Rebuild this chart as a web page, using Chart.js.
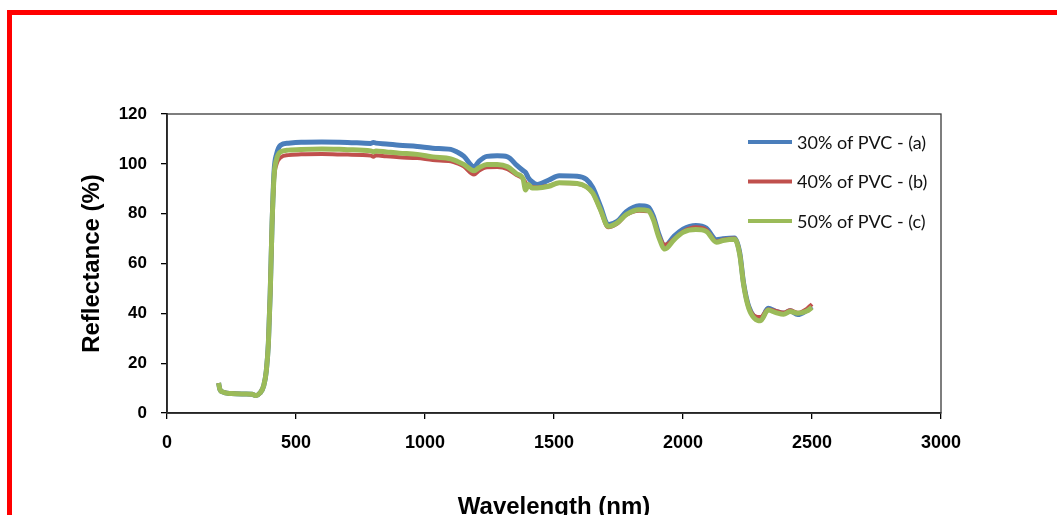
<!DOCTYPE html>
<html><head><meta charset="utf-8">
<script src="https://cdn.jsdelivr.net/npm/chart.js@4"></script>
<style>
html,body{margin:0;padding:0;background:#fff;overflow:hidden;width:1057px;height:515px;}
#frame{position:absolute;left:7px;top:10px;width:1120px;height:580px;border:5px solid #ff0000;box-sizing:border-box;}
#c{position:absolute;left:0;top:0;}
</style></head><body>
<div id="frame"></div>
<canvas id="c" width="1057" height="540"></canvas>
<script>
const wavelengths = [200,205,215,250,300,330,345,360,375,385,393,400,407,415,425,440,470,520,600,700,790,800,810,850,900,970,1030,1100,1125,1150,1190,1210,1240,1280,1320,1355,1380,1390,1400,1415,1435,1480,1520,1590,1625,1650,1680,1710,1745,1780,1830,1865,1885,1905,1930,1965,2000,2050,2090,2130,2155,2200,2220,2235,2255,2300,2330,2360,2390,2415,2445,2480,2500];
const pvc30 = [12,9.5,8.5,7.8,7.6,7.5,7.0,8.0,11,17,28,48,75,97,104,107.5,108.3,108.7,108.8,108.6,108.2,108.6,108.3,108.0,107.5,107.0,106.3,105.8,104.7,103.1,98.8,101.1,103.0,103.2,102.8,99.5,97.3,96.5,94.5,92.8,91.7,93.5,95.2,95.0,93.8,90.5,83,75.6,76.9,80.8,83.2,82.7,79,72.2,67.1,70.9,73.8,75.3,74.2,69.5,69.9,70.2,64.2,52,42.7,37.3,42,40.8,40,41,39.5,41.2,42.7];
const pvc40 = [12,9.5,8.5,7.8,7.6,7.5,7.0,8.0,11,17,28,48,75,94,100,102.5,103.5,103.8,103.9,103.7,103.3,102.8,103.4,103.0,102.6,102.3,101.5,101.0,100.2,99.0,95.7,97.3,98.6,98.7,97.9,95.5,94.0,92.5,90.8,90.8,90.5,91.2,92.3,92.0,90.8,88.3,81.5,74.5,76.0,79.5,81.2,81.0,78.0,71.5,67.5,69.8,72.8,74.5,73.5,68.8,69.5,70.0,64.0,51.8,42.5,38.5,41.5,41.0,40.3,41.2,40.2,41.8,43.7];
const pvc50 = [12,9.5,8.5,7.8,7.6,7.5,7.0,8.0,11,17,28,48,75,95,102,104.8,105.5,105.8,106.0,105.7,105.2,104.8,105.2,104.8,104.3,103.8,102.8,102.0,101.0,99.8,97.2,98.5,99.7,99.7,98.8,96.0,94.0,89.5,91.7,90.3,90.3,91.0,92.4,92.1,90.8,88.3,81.6,74.9,76.3,79.6,81.6,81.2,77.6,70.9,65.8,69.5,72.5,73.6,72.9,68.5,69.2,69.7,63.5,51.4,42.0,37.0,41.3,40.3,39.6,40.7,40.0,40.9,42.4];
const seriesLabels = ['30% of PVC - (a)','40% of PVC - (b)','50% of PVC - (c)'];
const xTicks = [0,500,1000,1500,2000,2500,3000];
const yTicks = [0,20,40,60,80,100,120];
const xTitle = 'Wavelength (nm)';
const yTitle = 'Reflectance (%)';

const toPts = arr => wavelengths.map((w,i)=>({x:w,y:arr[i]}));
const colors = ['#4a7ebb','#c0504d','#9bbb59'];
const widths = [5,4,5];
const orders = [2,1,0];

const framePlugin = {
  id:'frameBox',
  beforeDatasetsDraw(chart){
    const a = chart.chartArea, ctx = chart.ctx;
    ctx.save(); ctx.strokeStyle='#3a3a3a'; ctx.lineWidth=1.3;
    ctx.strokeRect(a.left, a.top, a.right-a.left, a.bottom-a.top);
    ctx.restore();
  }
};
const legendPlugin = {
  id:'inLegend',
  afterDatasetsDraw(chart){
    const ctx = chart.ctx, a = chart.chartArea;
    chart.data.datasets.forEach((ds,i)=>{
      const y = a.top + 28 + i*39.5;
      ctx.save();
      ctx.strokeStyle = ds.borderColor; ctx.lineWidth = 4; ctx.lineCap='butt';
      ctx.beginPath(); ctx.moveTo(a.left+581, y); ctx.lineTo(a.left+625, y); ctx.stroke();
      ctx.fillStyle = '#111'; ctx.font = '18px Lato'; ctx.textBaseline = 'middle';
      ctx.fillText(ds.label, a.left+630, y+1);
      ctx.restore();
    });
  }
};

new Chart(document.getElementById('c'), {
  type:'line',
  data:{
    datasets:[pvc30,pvc40,pvc50].map((arr,i)=>({
      label: seriesLabels[i], data: toPts(arr), borderColor: colors[i], backgroundColor: colors[i],
      borderWidth: widths[i], pointRadius:0, fill:false, tension:0.35, cubicInterpolationMode:'monotone', order: orders[i]
    }))
  },
  options:{
    responsive:false, animation:false, devicePixelRatio:1,
    layout:{padding:{left:78, top:114, right:116, bottom:18}},
    plugins:{legend:{display:false}, tooltip:{enabled:false}},
    scales:{
      x:{
        type:'linear', min:0, max:3000,
        afterBuildTicks(s){ s.ticks = xTicks.map(v=>({value:v})); },
        afterFit(s){ s.height = 109; },
        grid:{display:true, drawOnChartArea:false, drawTicks:true, tickLength:6, tickColor:'#000', lineWidth:1.3},
        border:{display:true, color:'#000', width:1.8},
        ticks:{color:'#000', padding:13, maxRotation:0, callback:v=>String(v), font:{family:'Liberation Sans', size:18, weight:'bold'}},
        title:{display:true, text:xTitle, color:'#000', font:{family:'Liberation Sans', size:24, weight:'bold'}, padding:{top:0,bottom:0}}
      },
      y:{
        type:'linear', min:0, max:120,
        afterBuildTicks(s){ s.ticks = yTicks.map(v=>({value:v})); },
        afterFit(s){ s.width = 89; },
        grid:{display:true, drawOnChartArea:false, drawTicks:true, tickLength:6, tickColor:'#000', lineWidth:1.3},
        border:{display:true, color:'#000', width:1.8},
        ticks:{color:'#000', padding:14, callback:v=>String(v), font:{family:'Liberation Sans', size:17, weight:'bold'}},
        title:{display:true, text:yTitle, color:'#000', font:{family:'Liberation Sans', size:24, weight:'bold'}, padding:{top:0,bottom:0}}
      }
    }
  },
  plugins:[framePlugin, legendPlugin]
});
</script>
</body></html>
